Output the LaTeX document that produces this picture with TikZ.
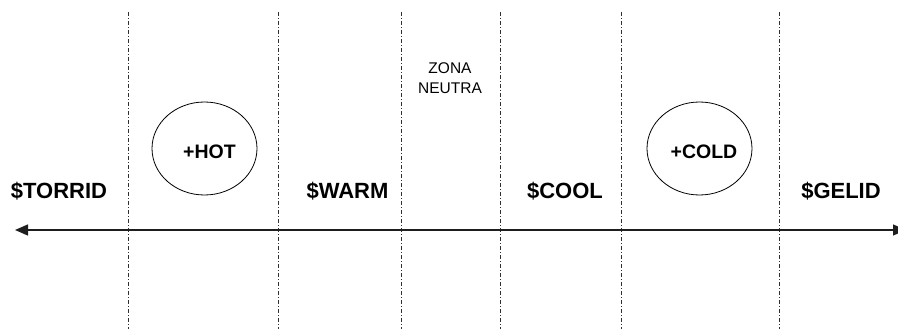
\documentclass[tikz,border=0pt]{standalone}
\usepackage{fontspec}
\setmainfont{Liberation Sans}
\usetikzlibrary{arrows.meta,positioning,shapes.geometric}
\definecolor{Ink}{HTML}{000000}
\definecolor{Rule}{HTML}{303030}
\definecolor{Axis}{HTML}{1E1E1E}
\tikzset{
  zone/.style={anchor=base,inner sep=0pt,font=\bfseries\fontsize{22}{24}\selectfont,text=Ink},
  tag/.style={anchor=base,inner sep=0pt,font=\bfseries\fontsize{19.5}{22}\selectfont,text=Ink},
  hint/.style={inner sep=0pt,align=center,font=\fontsize{15.5}{20}\selectfont,text=Ink},
  ring/.style={draw=Ink,ellipse,line width=0.8pt,minimum width=105pt,minimum height=93pt,inner sep=0pt},
  divider/.style={draw=Rule,line width=0.8pt,dash pattern=on 4pt off 2pt on 1pt off 2pt},
  axis/.style={{Triangle[length=13pt,width=11pt]}-{Triangle[length=13pt,width=11pt]},line width=1.3pt,draw=Axis,fill=Axis}
}
\begin{document}
\begin{tikzpicture}[x=1pt,y=-1pt]
\useasboundingbox (0,0) rectangle (898,329);
\foreach \x/\n in {128/a,278/b,401/c,500/d,621/e,779/f}{
  \coordinate (top\n) at (\x,12); \coordinate (bot\n) at (\x,329);
  \draw[divider] (top\n)--(bot\n);
}
\node[ring] (hotring) at (204.5,148.5) {};
\node[ring] (coldring) at (699.5,148.5) {};
\node[tag] (hot) at (209.5,158.5) {+HOT};
\node[tag] (cold) at (704,158.5) {+COLD};
\node[zone] (torrid) at (59,198) {\$TORRID};
\node[zone] (warm) at (347.5,198) {\$WARM};
\node[zone] (cool) at (565,198) {\$COOL};
\node[zone] (gelid) at (841,198) {\$GELID};
\node[hint] (neutral) at (450,78) {ZONA\\NEUTRA};
\coordinate (axisW) at (15,230); \coordinate (axisE) at (906,230);
\draw[axis] (axisW)--(axisE);
\end{tikzpicture}
\end{document}
